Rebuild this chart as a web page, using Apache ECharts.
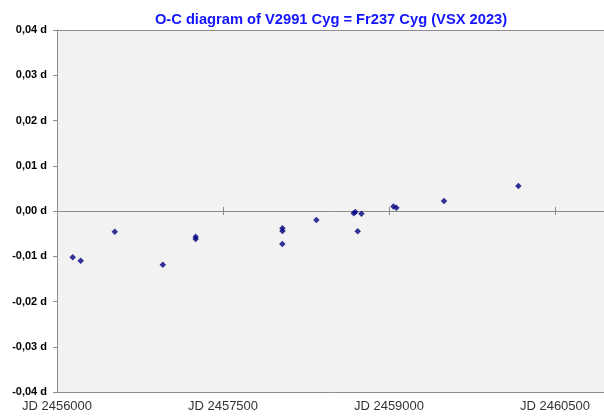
<!DOCTYPE html>
<html>
<head>
<meta charset="utf-8">
<script src="https://cdn.jsdelivr.net/npm/echarts@6/dist/echarts.min.js"></script>
<style>
  html, body { margin: 0; padding: 0; background: #fff; }
  #chart { width: 604px; height: 417px; }
</style>
</head>
<body>
<div id="chart"></div>
<script>
// observed minima, JD and O-C in days
var jd = [2456142, 2456214, 2456522, 2456956, 2457253, 2457253, 2458037, 2458037, 2458036,
  2458344, 2458681, 2458696, 2458717, 2458751, 2459040, 2459067, 2459497, 2460169];
var oc = [-0.0102, -0.0110, -0.0046, -0.0119, -0.0057, -0.0062, -0.0038, -0.0044, -0.0073,
  -0.0020, -0.0005, -0.0002, -0.0045, -0.0006, 0.0010, 0.0007, 0.0022, 0.0055];

var title = 'O-C diagram of V2991 Cyg = Fr237 Cyg (VSX 2023)';
var xMin = 2456000, xMax = 2460943, xStep = 1500;
var yMin = -0.04, yMax = 0.04, yStep = 0.01;

var points = jd.map(function (d, i) { return [d, oc[i]]; });

var chart = echarts.init(document.getElementById('chart'));

var lineGray = { color: '#8c8c8c', width: 1 };

chart.setOption({
  animation: false,
  title: {
    text: title,
    left: 326,
    textAlign: 'center',
    top: 7,
    textStyle: { color: '#1414ff', fontFamily: 'Arial, Liberation Sans', fontWeight: 'bold', fontSize: 14.7 }
  },
  grid: {
    left: 57, right: 0, top: 30, bottom: 25,
    show: true,
    backgroundColor: '#f2f2f2',
    borderWidth: 0
  },
  xAxis: [
    {
      type: 'value', min: xMin, max: xMax, interval: xStep,
      axisLine: { show: true, onZero: false, lineStyle: lineGray },
      axisTick: { show: false },
      splitLine: { show: false },
      axisLabel: {
        showMaxLabel: false,
        margin: 8,
        color: '#333',
        fontFamily: 'Arial, Liberation Sans',
        fontSize: 13,
        formatter: function (v) { return 'JD ' + v; }
      }
    },
    {
      type: 'value', min: xMin, max: xMax, interval: xStep, position: 'bottom',
      axisLine: { show: true, onZero: true, onZeroAxisIndex: 0, lineStyle: lineGray },
      axisTick: { show: true, length: 4, lineStyle: lineGray },
      axisLabel: { show: false },
      splitLine: { show: false }
    },
    {
      type: 'value', min: xMin, max: xMax, interval: xStep, position: 'top',
      axisLine: { show: false, onZero: true, onZeroAxisIndex: 1 },
      axisTick: { show: true, length: 4, lineStyle: lineGray },
      axisLabel: { show: false },
      splitLine: { show: false }
    },
    {
      // top edge of the plot area
      type: 'value', min: xMin, max: xMax, position: 'top',
      axisLine: { show: true, onZero: false, lineStyle: lineGray },
      axisTick: { show: false },
      axisLabel: { show: false },
      splitLine: { show: false }
    }
  ],
  yAxis: [
    {
      type: 'value', min: yMin, max: yMax, interval: yStep,
      axisLine: { show: true, onZero: false, lineStyle: lineGray },
      axisTick: { show: true, length: 4, lineStyle: lineGray },
      splitLine: { show: false },
      axisLabel: {
        margin: 10,
        color: '#000',
        fontFamily: 'Arial, Liberation Sans',
        fontWeight: 'bold',
        fontSize: 11,
        formatter: function (v) {
          var s = (Math.abs(v) < 1e-9 ? 0 : v).toFixed(2).replace('.', ',');
          return s + ' d';
        }
      }
    },
    {
      type: 'value', min: yMin, max: yMax, interval: yStep, show: false,
      axisLine: { onZero: false },
      splitLine: { show: false }
    }
  ],
  series: [
    {
      name: 'O-C',
      type: 'scatter',
      xAxisIndex: 0,
      yAxisIndex: 0,
      symbol: 'diamond',
      symbolSize: 6.5,
      itemStyle: { color: '#000080' },
      data: points
    }
  ]
});
</script>
</body>
</html>
